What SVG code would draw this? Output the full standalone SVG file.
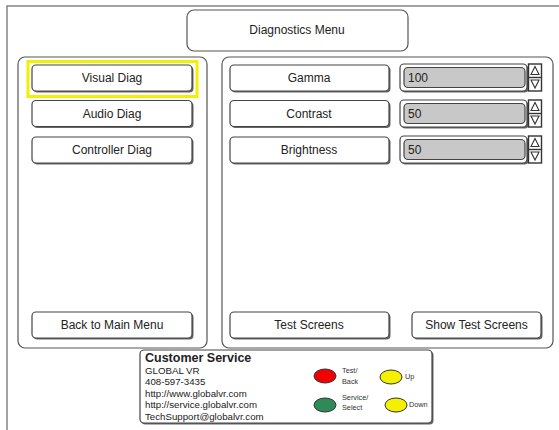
<svg xmlns="http://www.w3.org/2000/svg" width="559" height="430" viewBox="0 0 559 430">
<style>
.frame{fill:#fff;stroke:#555;stroke-width:1.2}
.sh{fill:#666;stroke:none}
.btn{fill:#fff;stroke:#444;stroke-width:1.2}
.t{font-family:"Liberation Sans",Arial,sans-serif;font-size:12px;fill:#222;text-anchor:middle}
.v{font-family:"Liberation Sans",Arial,sans-serif;font-size:12px;fill:#222}
.s{font-family:"Liberation Sans",Arial,sans-serif;font-size:9.7px;fill:#222}
.xs{font-family:"Liberation Sans",Arial,sans-serif;font-size:7.3px;fill:#333}
.field{fill:#c8c8c8;stroke:#444;stroke-width:1.2}
.arr{fill:none;stroke:#333;stroke-width:1.1}
</style>
<rect width="559" height="430" fill="#fff"/>
<g id="outer"><rect x="7" y="6" width="580" height="440" fill="#fff" stroke="#666" stroke-width="1.2"/></g>
<g id="title">
<rect x="187" y="10" width="221" height="41" rx="7" class="frame" stroke="#444"/>
<text x="297" y="34" class="t">Diagnostics Menu</text>
</g>
<g id="leftPanel"><rect x="18" y="57" width="189" height="291" rx="7" class="frame"/></g>
<g id="rightPanel"><rect x="222" y="57" width="331" height="291" rx="7" class="frame"/></g>
<g id="visualDiag">
<rect x="28" y="61.5" width="169" height="35" fill="none" stroke="#f0f000" stroke-width="3"/>
<rect x="33.5" y="66.5" width="160" height="26" rx="4" class="sh"/>
<rect x="32" y="65" width="160" height="26" rx="4" class="btn"/>
<text x="112" y="82" class="t">Visual Diag</text>
</g>
<g id="audioDiag">
<rect x="33.5" y="102" width="160" height="26" rx="4" class="sh"/>
<rect x="32" y="100.5" width="160" height="26" rx="4" class="btn"/>
<text x="112" y="117.5" class="t">Audio Diag</text>
</g>
<g id="controllerDiag">
<rect x="33.5" y="138.5" width="160" height="26" rx="4" class="sh"/>
<rect x="32" y="137" width="160" height="26" rx="4" class="btn"/>
<text x="112" y="154" class="t">Controller Diag</text>
</g>
<g id="gamma">
<rect x="231.5" y="66.5" width="159" height="26" rx="4" class="sh"/>
<rect x="230" y="65" width="159" height="26" rx="4" class="btn"/>
<text x="309" y="82" class="t">Gamma</text>
</g>
<g id="contrast">
<rect x="231.5" y="102" width="159" height="26" rx="4" class="sh"/>
<rect x="230" y="100.5" width="159" height="26" rx="4" class="btn"/>
<text x="309" y="117.5" class="t">Contrast</text>
</g>
<g id="brightness">
<rect x="231.5" y="138.5" width="159" height="26" rx="4" class="sh"/>
<rect x="230" y="137" width="159" height="26" rx="4" class="btn"/>
<text x="309" y="154" class="t">Brightness</text>
</g>
<g id="gammaSpin">
<rect x="401.5" y="65.5" width="127" height="27" rx="4" class="sh"/>
<rect x="400" y="64" width="127" height="27" rx="4" class="btn"/>
<rect x="404" y="67.5" width="121" height="20" rx="4" class="field"/>
<text x="408" y="82" class="v">100</text>
<rect x="528.5" y="64" width="13" height="27" fill="#fff" stroke="#333" stroke-width="1.4"/>
<line x1="528.5" y1="77.5" x2="541.5" y2="77.5" stroke="#333" stroke-width="1.4"/>
<path d="M535 66.5 L539 74.5 L531 74.5 Z M531 80 L539 80 L535 88 Z" class="arr"/>
</g>
<g id="contrastSpin">
<rect x="401.5" y="101.5" width="127" height="27" rx="4" class="sh"/>
<rect x="400" y="100" width="127" height="27" rx="4" class="btn"/>
<rect x="404" y="103.5" width="121" height="20" rx="4" class="field"/>
<text x="408" y="118" class="v">50</text>
<rect x="528.5" y="100" width="13" height="27" fill="#fff" stroke="#333" stroke-width="1.4"/>
<line x1="528.5" y1="113.5" x2="541.5" y2="113.5" stroke="#333" stroke-width="1.4"/>
<path d="M535 102.5 L539 110.5 L531 110.5 Z M531 116 L539 116 L535 124 Z" class="arr"/>
</g>
<g id="brightnessSpin">
<rect x="401.5" y="137.5" width="127" height="27" rx="4" class="sh"/>
<rect x="400" y="136" width="127" height="27" rx="4" class="btn"/>
<rect x="404" y="139.5" width="121" height="20" rx="4" class="field"/>
<text x="408" y="154" class="v">50</text>
<rect x="528.5" y="136" width="13" height="27" fill="#fff" stroke="#333" stroke-width="1.4"/>
<line x1="528.5" y1="149.5" x2="541.5" y2="149.5" stroke="#333" stroke-width="1.4"/>
<path d="M535 138.5 L539 146.5 L531 146.5 Z M531 152 L539 152 L535 160 Z" class="arr"/>
</g>
<g id="backMain">
<rect x="33.5" y="313.5" width="160" height="26" rx="4" class="sh"/>
<rect x="32" y="312" width="160" height="26" rx="4" class="btn"/>
<text x="112" y="329" class="t">Back to Main Menu</text>
</g>
<g id="testScreens">
<rect x="231.5" y="313.5" width="159" height="26" rx="4" class="sh"/>
<rect x="230" y="312" width="159" height="26" rx="4" class="btn"/>
<text x="309" y="329" class="t">Test Screens</text>
</g>
<g id="showTestScreens">
<rect x="413.5" y="313.5" width="129" height="26" rx="4" class="sh"/>
<rect x="412" y="312" width="129" height="26" rx="4" class="btn"/>
<text x="476.5" y="329" class="t">Show Test Screens</text>
</g>
<g id="customerService">
<rect x="141.5" y="351.5" width="292" height="73" rx="4" class="sh"/>
<rect x="140" y="350" width="292" height="73" rx="4" class="btn"/>
<text x="145" y="362" font-family="Liberation Sans,Arial,sans-serif" font-size="12.5" font-weight="bold" fill="#222">Customer Service</text>
<text x="145" y="373.5" class="s">GLOBAL VR</text>
<text x="145" y="385" class="s">408-597-3435</text>
<text x="145" y="396.5" class="s">http://www.globalvr.com</text>
<text x="145" y="408" class="s">http://service.globalvr.com</text>
<text x="145" y="419.5" class="s">TechSupport@globalvr.com</text>
<ellipse cx="325" cy="376" rx="11" ry="7" fill="#f00000" stroke="#333" stroke-width="1"/>
<ellipse cx="325" cy="405" rx="11" ry="7" fill="#2e8b57" stroke="#333" stroke-width="1"/>
<ellipse cx="391" cy="377" rx="11" ry="7" fill="#f5f000" stroke="#333" stroke-width="1"/>
<ellipse cx="396" cy="405" rx="11" ry="7" fill="#f5f000" stroke="#333" stroke-width="1"/>
<text x="342" y="373" class="xs">Test/</text>
<text x="342" y="384" class="xs">Back</text>
<text x="342" y="400" class="xs">Service/</text>
<text x="342" y="410" class="xs">Select</text>
<text x="405" y="379" class="xs">Up</text>
<text x="409" y="407" class="xs">Down</text>
</g>
</svg>
